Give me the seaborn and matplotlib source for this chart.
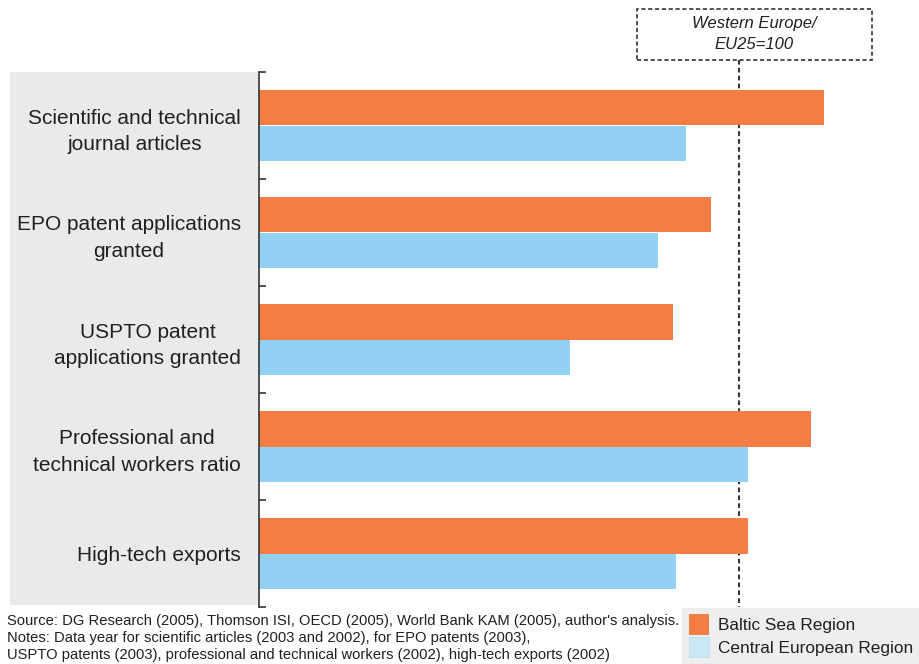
import matplotlib
matplotlib.use("Agg")
import matplotlib.pyplot as plt
from matplotlib.patches import Rectangle, Patch
import pandas as pd
import seaborn as sns

indicators = ["Scientific and technical\njournal articles",
              "EPO patent applications\ngranted",
              "USPTO patent\napplications granted",
              "Professional and\ntechnical workers ratio",
              "High-tech exports"]
baltic = [117.8, 94.1, 86.2, 114.9, 101.9]
central = [89.0, 83.1, 64.7, 101.9, 86.9]
regions = ["Baltic Sea Region", "Central European Region"]
reference = 100

source_lines = ["Source: DG Research (2005), Thomson ISI, OECD (2005), World Bank KAM (2005), author's analysis.",
                "Notes: Data year for scientific articles (2003 and 2002), for EPO patents (2003),",
                "USPTO patents (2003), professional and technical workers (2002), high-tech exports (2002)"]

df = pd.DataFrame({
    "indicator": indicators * 2,
    "value": baltic + central,
    "region": [regions[0]] * len(baltic) + [regions[1]] * len(central),
})

sns.set_style("white")
plt.rcParams["font.family"] = ["Liberation Sans", "DejaVu Sans"]
txt = "#231f20"

fig = plt.figure(figsize=(9.2, 6.64), dpi=100)

# grey panel behind the category labels
fig.patches.append(Rectangle((10 / 920, 59 / 664), 248 / 920, 533 / 664,
                             transform=fig.transFigure, facecolor="#e9eaec",
                             edgecolor="none", zorder=-1))

ax = fig.add_axes([259 / 920, 57 / 664, 661 / 920, 535 / 664])
ax.set_zorder(1)
ax.patch.set_alpha(0)

sns.barplot(data=df, y="indicator", x="value", hue="region", orient="h",
            palette=["#f47d43", "#92d1f3"], width=0.67, saturation=1,
            linewidth=0, legend=False, ax=ax)

ax.set_xlim(0, 661 / 4.8)
ax.set_ylim(4.5, -0.5)
ax.set_xlabel("")
ax.set_ylabel("")
ax.set_xticks([])
for s in ["top", "right", "bottom"]:
    ax.spines[s].set_visible(False)
ax.spines["left"].set_color("#333333")
ax.spines["left"].set_linewidth(1.2)

ax.set_yticks(range(len(indicators)))
ax.set_yticklabels(indicators, ha="right", multialignment="center",
                   fontsize=15, color=txt, linespacing=1.5)
ax.tick_params(axis="y", which="major", left=True, length=0, pad=13)
ax.set_yticks([i - 0.5 for i in range(len(indicators) + 1)], minor=True)
ax.tick_params(axis="y", which="minor", left=True, direction="in", length=5,
               width=1.2, color="#333333")

# reference line at Western Europe = 100
ax.plot([reference, reference], [-0.61, 4.5], ls=(0, (2.2, 1.6)),
        color="#333333", lw=1.5, clip_on=False, zorder=0.5)

fig.patches.append(Rectangle((637 / 920, 604 / 664), 235 / 920, 51 / 664,
                             transform=fig.transFigure, facecolor="none",
                             edgecolor="#333333", ls=(0, (2.5, 1.6)), lw=1.2))
fig.text(754 / 920, 630 / 664, "Western Europe/\nEU25=100", ha="center",
         va="center", fontsize=12, style="italic", color=txt,
         linespacing=1.45)

fig.text(7 / 920, 50 / 664, "\n".join(source_lines), ha="left", va="top",
         fontsize=10.6, color=txt, linespacing=1.25)

handles = [Patch(facecolor="#f47d43", edgecolor="none"),
           Patch(facecolor="#c9e8f3", edgecolor="#b5dcec", lw=0.5)]
leg = fig.legend(handles, regions, loc="lower right", bbox_to_anchor=(1.0, 0.0),
                 frameon=True, fancybox=False, facecolor="#e9eaec",
                 edgecolor="#e9eaec", fontsize=12.4, handlelength=1.2,
                 handleheight=1.45, handletextpad=0.5, labelspacing=0.1,
                 borderpad=0.4, borderaxespad=0.0)
for t in leg.get_texts():
    t.set_color(txt)

fig.savefig("out.png", dpi=100)
